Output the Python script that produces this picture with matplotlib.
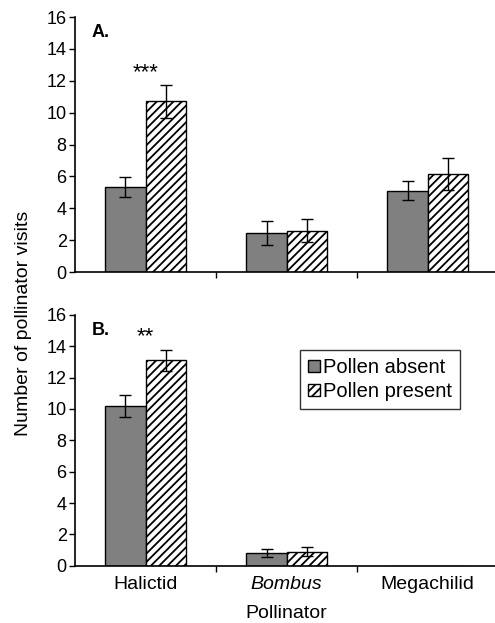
import numpy as np
import matplotlib.pyplot as plt

plt.rcParams['font.family'] = ['Liberation Sans', 'DejaVu Sans']
plt.rcParams['hatch.linewidth'] = 1.3

pollinators = ['Halictid', 'Bombus', 'Megachilid']

# panel A
a_absent = [5.35, 2.45, 5.1]
a_absent_err = [0.62, 0.75, 0.6]
a_present = [10.7, 2.6, 6.15]
a_present_err = [1.05, 0.7, 1.02]

# panel B
b_absent = [10.2, 0.8, 0]
b_absent_err = [0.7, 0.25, 0]
b_present = [13.1, 0.9, 0]
b_present_err = [0.66, 0.3, 0]

fig = plt.figure(figsize=(4.95, 6.23), dpi=100)
ax1 = fig.add_axes([0.1515, 0.5634, 0.855, 0.4093])
ax2 = fig.add_axes([0.1515, 0.092, 0.855, 0.4024])

x = np.arange(len(pollinators))
w = 0.285


def draw(ax, absent, absent_err, present, present_err, label, stars):
    ax.bar(x - w / 2, absent, w, color='#808080', edgecolor='black', linewidth=1,
           label='Pollen absent')
    ax.bar(x + w / 2, present, w, color='white', edgecolor='black', linewidth=1,
           hatch='////', label='Pollen present')
    mask_a = np.array(absent) > 0
    mask_p = np.array(present) > 0
    ax.errorbar((x - w / 2)[mask_a], np.array(absent)[mask_a], yerr=np.array(absent_err)[mask_a],
                fmt='none', ecolor='black', elinewidth=1, capsize=4, capthick=1)
    ax.errorbar((x + w / 2)[mask_p], np.array(present)[mask_p], yerr=np.array(present_err)[mask_p],
                fmt='none', ecolor='black', elinewidth=1, capsize=4, capthick=1)
    ax.set_xlim(-0.5, 2.5)
    ax.set_ylim(0, 16)
    ax.set_yticks(range(0, 17, 2))
    ax.set_xticks([0.5, 1.5])
    ax.set_xticklabels([])
    ax.tick_params(axis='y', labelsize=13, direction='out', length=4, width=1, pad=2)
    ax.tick_params(axis='x', direction='out', length=4, width=1)
    ax.spines['top'].set_visible(False)
    ax.spines['right'].set_visible(False)
    ax.spines['left'].set_linewidth(1.2)
    ax.spines['bottom'].set_linewidth(1.2)
    ax.text(0.04, 0.92, label, transform=ax.transAxes, fontsize=13, fontweight='bold')
    ax.text(0, stars[1], stars[0], ha='center', va='center', fontsize=16)


draw(ax1, a_absent, a_absent_err, a_present, a_present_err, 'A.', ('***', 12.5))
draw(ax2, b_absent, b_absent_err, b_present, b_present_err, 'B.', ('**', 14.6))

for i, name in enumerate(pollinators):
    ax2.text(i, -0.04, name, transform=ax2.get_xaxis_transform(), ha='center', va='top',
             fontsize=14, style='italic' if name == 'Bombus' else 'normal')

fig.text(0.578, 0.016, 'Pollinator', ha='center', va='center', fontsize=14)
fig.text(0.048, 0.4815, 'Number of pollinator visits', rotation=90, ha='center', va='center',
         fontsize=14)

leg = ax2.legend(loc='upper left', bbox_to_anchor=(0.532, 0.86), fontsize=14.5, frameon=True,
                 fancybox=False, edgecolor='black', handlelength=0.6, handleheight=0.6,
                 handletextpad=0.15, borderpad=0.4, labelspacing=0.25, borderaxespad=0)
leg.get_frame().set_linewidth(1)

fig.savefig('out.png', dpi=100)
